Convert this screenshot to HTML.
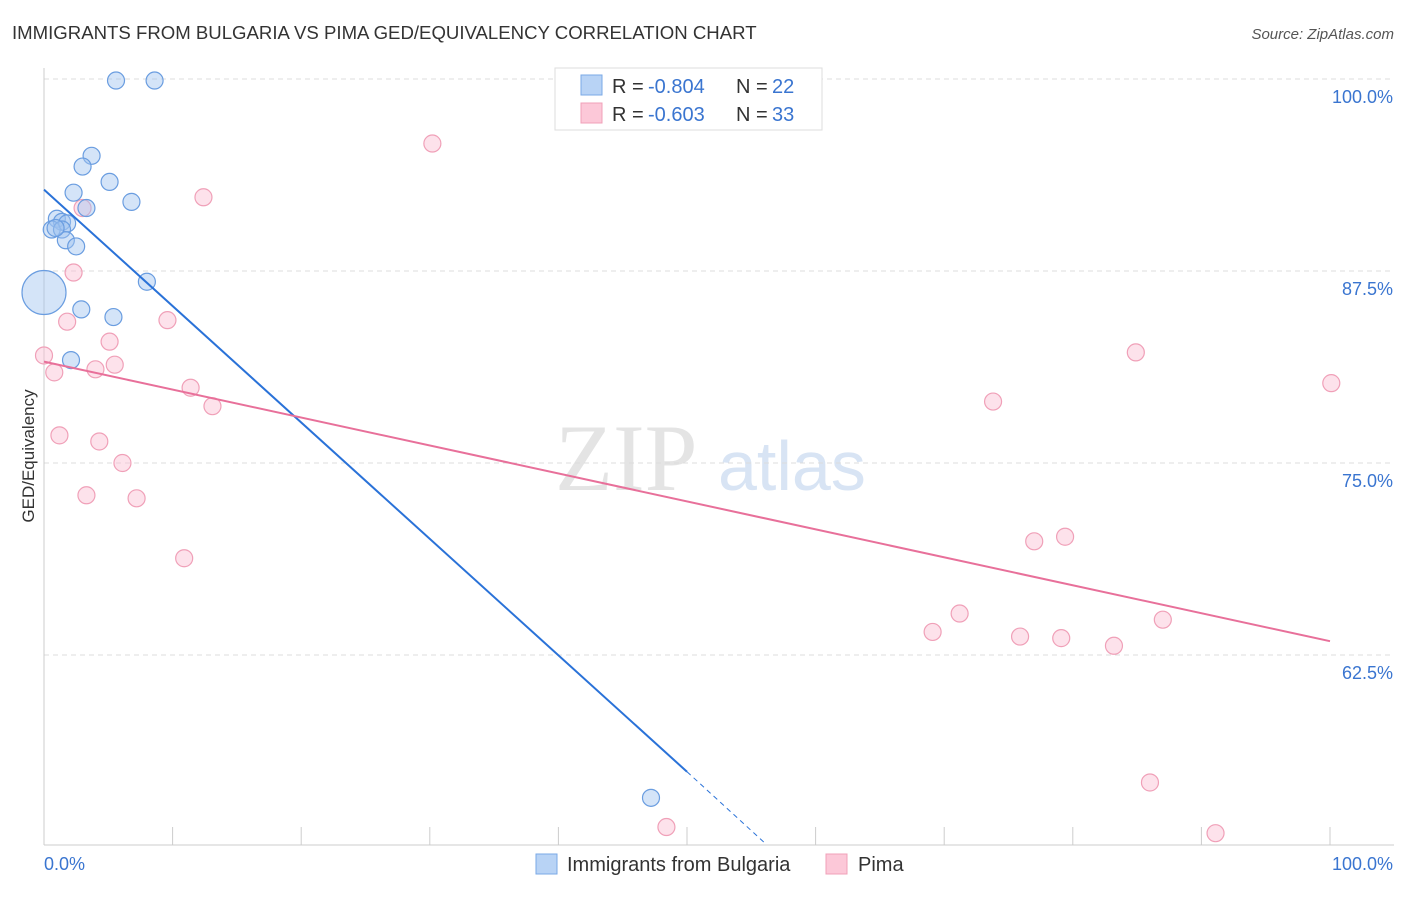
<!DOCTYPE html>
<html><head><meta charset="utf-8"><style>
body{margin:0;background:#fff;font-family:"Liberation Sans",sans-serif}
</style></head><body>
<svg id="c" width="1406" height="892" xmlns="http://www.w3.org/2000/svg">
<text x="12" y="39" font-size="18.6" fill="#333">IMMIGRANTS FROM BULGARIA VS PIMA GED/EQUIVALENCY CORRELATION CHART</text>
<text x="1394" y="39" font-size="15" fill="#555" font-style="italic" text-anchor="end">Source: ZipAtlas.com</text>
<text x="555" y="490" font-size="95" fill="#e4e4e4" font-family="Liberation Serif">ZIP</text>
<text x="718" y="490" font-size="70" fill="#d8e4f4">atlas</text>
<text transform="translate(34,456) rotate(-90)" font-size="17" fill="#333" text-anchor="middle">GED/Equivalency</text>
<g id="grid"></g><g id="pts"></g><g id="lines"></g>
<g>
<rect x="555" y="68" width="267" height="62" fill="#fff" stroke="#ddd"/>
<rect x="581" y="75" width="21" height="20" fill="#b8d3f5" stroke="#7aa8e6"/>
<rect x="581" y="103" width="21" height="20" fill="#fcc8d8" stroke="#f0a0b8"/>
<text x="612" y="93" font-size="20" fill="#333">R =</text>
<text x="648" y="93" font-size="20" fill="#3a75d0">-0.804</text>
<text x="736" y="93" font-size="20" fill="#333">N =</text>
<text x="772" y="93" font-size="20" fill="#3a75d0">22</text>
<text x="612" y="121" font-size="20" fill="#333">R =</text>
<text x="648" y="121" font-size="20" fill="#3a75d0">-0.603</text>
<text x="736" y="121" font-size="20" fill="#333">N =</text>
<text x="772" y="121" font-size="20" fill="#3a75d0">33</text>
</g>
<g>
<rect x="536" y="854" width="21" height="20" fill="#b8d3f5" stroke="#7aa8e6"/>
<text x="567" y="871" font-size="20" fill="#333">Immigrants from Bulgaria</text>
<rect x="826" y="854" width="21" height="20" fill="#fcc8d8" stroke="#f0a0b8"/>
<text x="858" y="871" font-size="20" fill="#333">Pima</text>
</g>
</svg>
<script>
const blueX=[5.6,8.6,3.7,3.0,5.1,2.3,6.8,3.3,1.0,1.4,1.8,0.6,1.4,1.7,2.5,8.0,0,2.9,5.4,2.1,47.2,0.9];
const blueY=[99.9,99.9,95.0,94.3,93.3,92.6,92.0,91.6,90.9,90.7,90.6,90.2,90.2,89.5,89.1,86.8,86.1,85.0,84.5,81.7,53.2,90.3];
const pinkX=[30.2,12.4,3.0,2.3,1.8,9.6,5.1,0,5.5,4.0,0.8,11.4,13.1,1.2,4.3,6.1,3.3,7.2,10.9,73.8,84.9,100.1,77.0,79.4,71.2,69.1,75.9,79.1,87.0,83.2,86.0,48.4,91.1];
const pinkY=[95.8,92.3,91.6,87.4,84.2,84.3,82.9,82.0,81.4,81.1,80.9,79.9,78.7,76.8,76.4,75.0,72.9,72.7,68.8,79.0,82.2,80.2,69.9,70.2,65.2,64.0,63.7,63.6,64.8,63.1,54.2,51.3,50.9];
const yTicks=[100,87.5,75,62.5];
const yTickLabels=["100.0%","87.5%","75.0%","62.5%"];
const blueLine=[[0,92.8],[50,54.9],[56,50.3]];
const pinkLine=[[0,81.6],[100,63.4]];
const NS="http://www.w3.org/2000/svg";
const sx=v=>44+v*12.86, sy=v=>79+(100-v)*15.36;
function mk(t,a,p){const e=document.createElementNS(NS,t);for(const k in a)e.setAttribute(k,a[k]);p.appendChild(e);return e;}
const g=document.getElementById('grid');
yTicks.forEach((t,i)=>{const l=mk('line',{x1:44,x2:1394,y1:sy(t),y2:sy(t),stroke:'#ddd','stroke-dasharray':'5,4'},g);


const tx=mk('text',{x:1393,y:sy(t)+24,'font-size':18,fill:'#3a75d0','text-anchor':'end'},g);tx.textContent=yTickLabels[i];

});
const ax=mk('line',{x1:44,x2:44,y1:68,y2:845,stroke:'#ccc'},g);


const bx=mk('line',{x1:44,x2:1394,y1:845,y2:845,stroke:'#ccc'},g);


for(let i=0;i<=10;i++){const t=mk('line',{x1:sx(i*10),x2:sx(i*10),y1:827,y2:845,stroke:'#ccc'},g);

}
const x0=mk('text',{x:44,y:870,'font-size':18,fill:'#3a75d0'},g);x0.textContent='0.0%';


const x1=mk('text',{x:1393,y:870,'font-size':18,fill:'#3a75d0','text-anchor':'end'},g);x1.textContent='100.0%';


const P=document.getElementById('pts');
pinkX.forEach((x,i)=>{const c=mk('circle',{cx:sx(x),cy:sy(pinkY[i]),r:8.5,fill:'rgba(250,190,210,0.45)',stroke:'#f0a0b8','stroke-width':1.2},P);

});
blueX.forEach((x,i)=>{const c=mk('circle',{cx:sx(x),cy:sy(blueY[i]),r:(x===0?22:8.5),fill:'rgba(160,195,240,0.45)',stroke:'#6a9de0','stroke-width':1.2},P);

});
const L=document.getElementById('lines');
const b1=mk('line',{x1:sx(blueLine[0][0]),y1:sy(blueLine[0][1]),x2:sx(blueLine[1][0]),y2:sy(blueLine[1][1]),stroke:'#2a72d8','stroke-width':2},L);


const b2=mk('line',{x1:sx(blueLine[1][0]),y1:sy(blueLine[1][1]),x2:sx(blueLine[2][0]),y2:sy(blueLine[2][1]),stroke:'#2a72d8','stroke-width':1,'stroke-dasharray':'5,4'},L);


const p1=mk('line',{x1:sx(pinkLine[0][0]),y1:sy(pinkLine[0][1]),x2:sx(pinkLine[1][0]),y2:sy(pinkLine[1][1]),stroke:'#e8709a','stroke-width':2},L);


</script>
</body></html>
